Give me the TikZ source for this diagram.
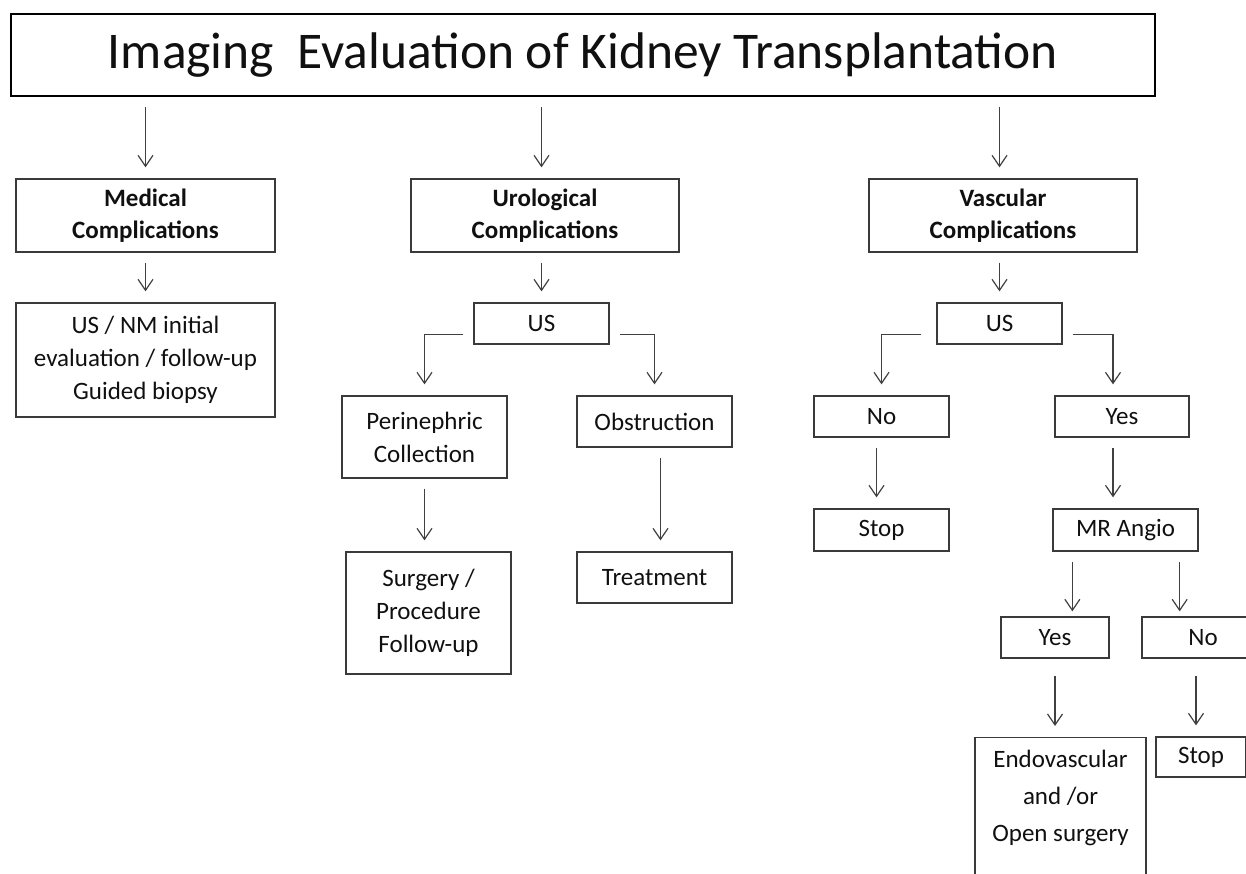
\documentclass[tikz,border=0pt]{standalone}
\usepackage{fontspec}
\setmainfont{Carlito}
\usetikzlibrary{arrows.meta}
\definecolor{boxgray}{HTML}{3A3A3A}
\definecolor{arrgray}{HTML}{404040}
\definecolor{txtgray}{HTML}{101010}

\begin{document}
\begin{tikzpicture}[x=1pt,y=-1pt,
    box/.style={draw=boxgray,line width=1.3pt,inner sep=0pt,align=center,text=txtgray,
      font=\fontsize{25}{33}\selectfont},
    hdr/.style={box,font=\bfseries\fontsize{25}{32}\selectfont},
    arr/.style={draw=arrgray,line width=1.2pt,-{Straight Barb[length=11pt,width=15pt]},
      shorten <=10pt,shorten >=11pt}]
    \useasboundingbox (0,0) rectangle (1246,874);
    \clip (0,0) rectangle (1246,874);
    % title
    \node[box,draw=black,minimum width=1144pt,minimum height=82pt,font=\fontsize{51.5}{60}\selectfont]
      (title) at (583,55) {Imaging\ \ Evaluation of Kidney Transplantation};
    % complications
    \node[hdr,minimum width=259pt,minimum height=73pt] (med) at (145.5,215.5) {Medical\\Complications};
    \node[hdr,minimum width=268pt,minimum height=73pt] (uro) at (545,215.5) {Urological\\Complications};
    \node[hdr,minimum width=268pt,minimum height=73pt] (vas) at (1003,215.5) {Vascular\\Complications};
    % medical branch
    \node[box,minimum width=259pt,minimum height=114pt] (usnm) at (145.5,360)
      {US / NM initial\\evaluation / follow-up\\Guided biopsy};
    % urological branch
    \node[box,minimum width=135pt,minimum height=41pt] (usu) at (541.5,323.5) {US};
    \node[box,minimum width=165pt,minimum height=82pt] (peri) at (424.5,437) {Perinephric\\Collection};
    \node[box,minimum width=155pt,minimum height=51pt] (obst) at (654.5,421.5) {Obstruction};
    \node[box,minimum width=165pt,minimum height=122pt] (surg) at (428.5,613) {Surgery /\\Procedure\\Follow-up};
    \node[box,minimum width=155pt,minimum height=51pt] (treat) at (654.5,577.5) {Treatment};
    % vascular branch
    \node[box,minimum width=125pt,minimum height=41pt] (usv) at (999.5,323.5) {US};
    \node[box,minimum width=135pt,minimum height=41pt] (no) at (881.5,416.5) {No};
    \node[box,minimum width=134pt,minimum height=41pt] (yes) at (1122,416.5) {Yes};
    \node[box,minimum width=135pt,minimum height=42pt] (stop) at (881.5,530) {Stop};
    \node[box,minimum width=145pt,minimum height=42pt] (mra) at (1125.5,530) {MR Angio};
    \node[box,minimum width=108pt,minimum height=41pt] (yestwo) at (1055,637.5) {Yes};
    \node[box,minimum width=122pt,minimum height=41pt] (notwo) at (1203,637.5) {No};
    \node[box,minimum width=171pt,inner ysep=12pt,anchor=north,font=\fontsize{25}{37}\selectfont]
      (endo) at (1060.5,737) {Endovascular\\and /or\\Open surgery\\[90pt]\mbox{}};
    \node[box,minimum width=90pt,minimum height=40pt] (stoptwo) at (1201,757) {Stop};

    % connectors
    \draw[arr] (med.north |- title.south) -- (med.north);
    \draw[arr] (usu.north |- title.south) -- (usu.north |- uro.north);
    \draw[arr] (usv.north |- title.south) -- (usv.north |- vas.north);
    \draw[arr] (med) -- (usnm);
    \draw[arr] (usu.north |- uro.south) -- (usu.north);
    \draw[arr] (usv.north |- vas.south) -- (usv.north);
    \draw[arr] ([yshift=10pt]usu.south west) -| (peri.north);
    \draw[arr] ([yshift=10pt]usu.south east) -| (obst.north);
    \draw[arr] (peri.south) -- (peri.south |- surg.north);
    \draw[arr] ([xshift=6pt]obst.south) -- ([xshift=6pt]obst.south |- treat.north);
    \draw[arr,shorten <=15pt] ([yshift=10pt]usv.south west) -| (no.north);
    \draw[arr] ([yshift=10pt]usv.south east) -| ([xshift=-9pt]yes.north);
    \draw[arr] ([xshift=-5pt]no.south) -- ([xshift=-5pt]no.south |- stop.north);
    \draw[arr] ([xshift=-9pt]yes.south) -- ([xshift=-9pt]yes.south |- mra.north);
    \draw[arr,shorten >=5pt] ([xshift=20pt]mra.south west) -- ([xshift=20pt]mra.south west |- yestwo.north);
    \draw[arr,shorten >=5pt] ([xshift=-19pt]mra.south east) -- ([xshift=-19pt]mra.south east |- notwo.north);
    \draw[arr,shorten <=17pt] (yestwo.south) -- (yestwo.south |- endo.north);
    \draw[arr,shorten <=17pt] ([xshift=-7pt]notwo.south) -- ([xshift=-7pt]notwo.south |- stoptwo.north);
\end{tikzpicture}
\end{document}
